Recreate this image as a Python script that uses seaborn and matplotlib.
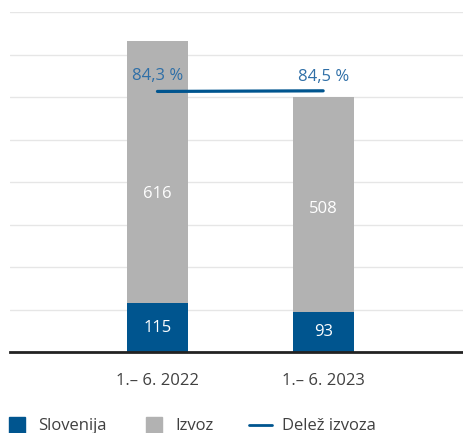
import matplotlib
matplotlib.use("Agg")
import matplotlib.pyplot as plt
from matplotlib.lines import Line2D
import seaborn as sns
import pandas as pd

# data
obdobja = ["1.– 6. 2022", "1.– 6. 2023"]
slovenija = [115, 93]
izvoz = [616, 508]
delez_izvoza = [84.3, 84.5]
delez_labels = ["84,3 %", "84,5 %"]

modra = "#00558f"
siva = "#b2b2b2"
tekst = "#404040"

sns.set_theme(style="white")
plt.rcParams["font.family"] = ["Open Sans", "DejaVu Sans"]

df = pd.DataFrame({"obdobje": obdobja, "Slovenija": slovenija, "Izvoz": izvoz})
df["skupaj"] = df["Slovenija"] + df["Izvoz"]

fig = plt.figure(figsize=(4.64, 4.33), dpi=100)
ax = fig.add_axes([10 / 464, 81 / 433, 454 / 464, 340 / 433])

# stacked: total in gray, Slovenija drawn over the bottom
sns.barplot(data=df, x="obdobje", y="skupaj", color=siva, width=0.37,
            saturation=1, linewidth=0, ax=ax)
sns.barplot(data=df, x="obdobje", y="Slovenija", color=modra, width=0.37,
            saturation=1, linewidth=0, ax=ax)

# share of export on secondary axis
ax2 = ax.twinx()
sns.lineplot(x=[0, 1], y=delez_izvoza, color=modra, linewidth=2.3, ax=ax2)
ax2.set_ylim(0, 110)
ax2.set_xlim(-0.89, 1.85)
ax2.axis("off")

ax.set_ylim(0, 800)
ax.set_yticks(range(0, 801, 100))
ax.yaxis.grid(True, color="#e6e6e6", linewidth=1)
ax.set_axisbelow(True)
ax.set_xlim(-0.89, 1.85)
ax.set_xlabel("")
ax.set_ylabel("")
ax.tick_params(axis="y", left=False, right=False, labelleft=False)
ax.tick_params(axis="x", bottom=False, pad=9, labelsize=12, labelcolor=tekst)
for s in ["top", "right", "left"]:
    ax.spines[s].set_visible(False)
ax.spines["bottom"].set_color("#222222")
ax.spines["bottom"].set_linewidth(2)

# value labels
izvoz_label_y = [372, 336]
for i in range(len(obdobja)):
    ax.text(i, slovenija[i] / 2, str(slovenija[i]), ha="center", va="center",
            color="white", fontsize=12)
    ax.text(i, izvoz_label_y[i], str(izvoz[i]), ha="center", va="center",
            color="white", fontsize=12)

for i, lab in enumerate(delez_labels):
    ax2.annotate(lab, (i, delez_izvoza[i]), xytext=(0, 5 if i == 0 else 4),
                 textcoords="offset points", ha="center", va="bottom",
                 color="#2f6fa7", fontsize=12)

handles = [
    Line2D([], [], marker="s", linestyle="none", markersize=11,
           markerfacecolor=modra, markeredgecolor=modra),
    Line2D([], [], marker="s", linestyle="none", markersize=11,
           markerfacecolor=siva, markeredgecolor=siva),
    Line2D([], [], color=modra, linewidth=2),
]
fig.legend(handles, ["Slovenija", "Izvoz", "Delež izvoza"], loc="lower left",
           bbox_to_anchor=(-0.021, -0.038), ncol=3, frameon=False, fontsize=12,
           handlelength=1.4, handletextpad=0.6, columnspacing=2.1,
           labelcolor=tekst)

fig.savefig("out.png", dpi=100)
